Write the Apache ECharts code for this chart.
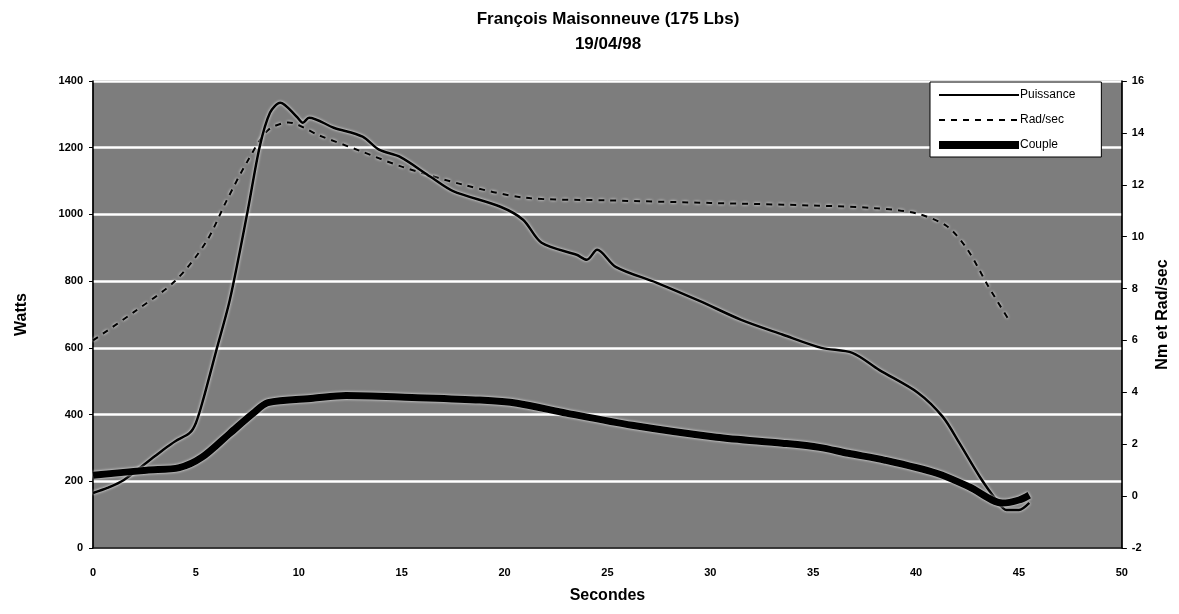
<!DOCTYPE html>
<html>
<head>
<meta charset="utf-8">
<script src="https://cdn.jsdelivr.net/npm/echarts@6/dist/echarts.min.js"></script>
<style>
  html, body { margin: 0; padding: 0; background: #fff; }
  #chart { width: 1179px; height: 614px; }
</style>
</head>
<body>
<div id="chart"></div>
<script>
// Puissance (Watts, left axis)
const powerSec = [0, 0.7, 1.5, 3.0, 3.4, 4.0, 4.7, 5.0, 5.35, 6.0, 6.65, 7.5, 8.1, 8.6, 9.1, 9.9, 10.2, 10.5, 11.7, 13.1, 13.9, 14.9, 16.4, 17.5, 19.8, 20.9, 21.8, 23.5, 24.0, 24.5, 25.4, 27.4, 29.5, 31.5, 33.5, 35.4, 36.9, 38.2, 40.1, 41.3, 42.1, 43.1, 43.9, 44.4, 45.0, 45.5];
const powerWatts = [165, 180, 204, 275, 294, 320, 345, 375, 444, 594, 744, 1005, 1203, 1305, 1335, 1293, 1275, 1290, 1260, 1233, 1194, 1173, 1113, 1070, 1023, 984, 915, 879, 864, 894, 843, 795, 740, 684, 640, 600, 585, 534, 465, 393, 315, 213, 144, 114, 114, 135];

// Rad/sec (right axis)
const speedSec = [0, 2, 4, 5.5, 6.5, 7.5, 8.5, 9.5, 11, 13, 15, 18, 21, 25, 30, 35, 38, 40, 41.5, 42.5, 43.5, 44.5];
const speedRad = [6.0, 7.1, 8.3, 9.8, 11.4, 12.9, 14.1, 14.4, 13.9, 13.3, 12.7, 12.0, 11.5, 11.4, 11.3, 11.2, 11.1, 10.9, 10.4, 9.5, 8.1, 6.8];

// Couple (Nm, right axis)
const torqueSec = [0, 2.6, 4.2, 5.3, 6.65, 7.8, 8.5, 10.7, 12.3, 15.5, 18.8, 20.6, 23, 26.2, 30.3, 33.5, 35.3, 36.7, 38.5, 41, 42.6, 44.2, 45, 45.5];
const torqueNm = [0.8, 1.0, 1.1, 1.5, 2.42, 3.2, 3.6, 3.77, 3.88, 3.8, 3.7, 3.58, 3.2, 2.73, 2.27, 2.04, 1.88, 1.65, 1.38, 0.88, 0.35, -0.27, -0.15, 0.04];

const zip = (xs, ys) => xs.map((x, i) => [x, ys[i]]);

const font = 'Arial, "Liberation Sans", sans-serif';
const halo = { shadowColor: '#ffffff', shadowBlur: 3 };
const tickText = { fontFamily: font, fontSize: 11, fontWeight: 'bold', color: '#000' };
const nameText = { fontFamily: font, fontSize: 16, fontWeight: 'bold', color: '#000' };

const chart = echarts.init(document.getElementById('chart'));
chart.setOption({
  animation: false,
  title: {
    text: 'François Maisonneuve (175 Lbs)\n19/04/98',
    left: 603,
    textAlign: 'center',
    top: 2,
    textStyle: { fontFamily: font, fontSize: 17, fontWeight: 'bold', color: '#000', lineHeight: 25 }
  },
  legend: {
    orient: 'vertical',
    left: 930,
    top: 82,
    itemWidth: 80,
    itemHeight: 8,
    itemGap: 13,
    padding: [7, 26, 6, 5],
    backgroundColor: '#fff',
    borderColor: '#000',
    borderWidth: 1,
    itemStyle: { opacity: 0 },
    textStyle: { fontFamily: font, fontSize: 12, color: '#000', padding: [0, 0, 0, -4] },
    data: [
      { name: 'Puissance', lineStyle: { width: 2, type: 'solid' } },
      { name: 'Rad/sec', lineStyle: { width: 2, type: [6, 6] } },
      { name: 'Couple', lineStyle: { width: 8 } }
    ]
  },
  grid: {
    left: 93,
    right: 56,
    top: 81,
    bottom: 66,
    show: true,
    backgroundColor: '#7d7d7d',
    borderColor: '#000',
    borderWidth: 1
  },
  xAxis: {
    type: 'value',
    min: 0,
    max: 50,
    interval: 5,
    name: 'Secondes',
    nameLocation: 'middle',
    nameGap: 40,
    nameTextStyle: nameText,
    axisLine: { lineStyle: { color: '#000', width: 1.5 } },
    axisTick: { show: false },
    axisLabel: Object.assign({ margin: 19 }, tickText),
    splitLine: { show: false }
  },
  yAxis: [
    {
      type: 'value',
      min: 0,
      max: 1400,
      interval: 200,
      name: 'Watts',
      nameLocation: 'middle',
      nameGap: 63,
      nameRotate: 90,
      nameTextStyle: nameText,
      axisLine: { show: true, lineStyle: { color: '#000', width: 1.5 } },
      axisTick: { show: true, length: 4, lineStyle: { color: '#000' } },
      axisLabel: Object.assign({ margin: 10, formatter: v => String(v) }, tickText),
      splitLine: { show: true, lineStyle: { color: '#ffffff', width: 2.5 } }
    },
    {
      type: 'value',
      min: -2,
      max: 16,
      interval: 2,
      position: 'right',
      name: 'Nm et Rad/sec',
      nameLocation: 'middle',
      nameGap: 32,
      nameRotate: 90,
      nameTextStyle: nameText,
      axisLine: { show: true, lineStyle: { color: '#000', width: 1.5 } },
      axisTick: { show: true, length: 5, lineStyle: { color: '#000' } },
      axisLabel: Object.assign({ margin: 10, formatter: v => String(v) }, tickText),
      splitLine: { show: false }
    }
  ],
  series: [
    {
      name: 'Puissance',
      type: 'line',
      yAxisIndex: 0,
      data: zip(powerSec, powerWatts),
      smooth: 0.3,
      symbol: 'none',
      lineStyle: Object.assign({ color: '#000', width: 2.5 }, halo),
      itemStyle: { color: '#000' },
      z: 4
    },
    {
      name: 'Rad/sec',
      type: 'line',
      yAxisIndex: 1,
      data: zip(speedSec, speedRad),
      smooth: 0.3,
      symbol: 'none',
      lineStyle: Object.assign({ color: '#000', width: 2, type: [6, 6] }, halo),
      itemStyle: { color: '#000' },
      z: 3
    },
    {
      name: 'Couple',
      type: 'line',
      yAxisIndex: 1,
      data: zip(torqueSec, torqueNm),
      smooth: 0.3,
      symbol: 'none',
      lineStyle: Object.assign({ color: '#000', width: 7 }, halo),
      itemStyle: { color: '#000' },
      z: 5
    }
  ]
});
</script>
</body>
</html>
